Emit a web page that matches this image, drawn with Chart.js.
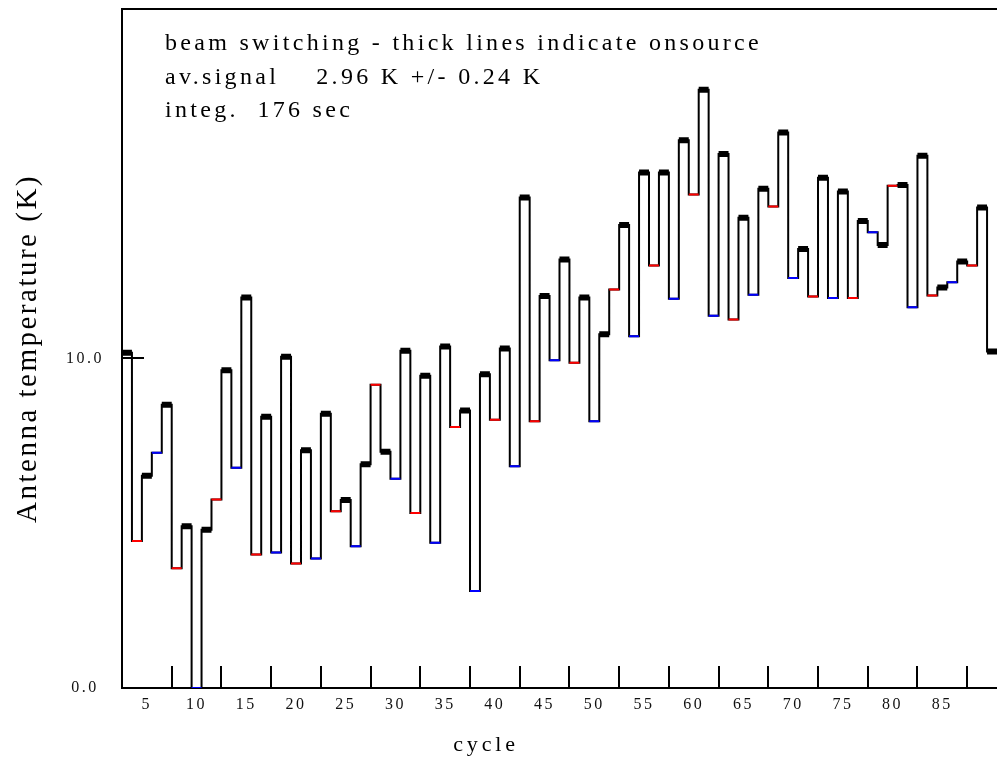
<!DOCTYPE html>
<html>
<head>
<meta charset="utf-8">
<title>Beam switching - antenna temperature per cycle</title>
<script src="https://cdn.jsdelivr.net/npm/chart.js@4/dist/chart.umd.min.js"></script>
<style>
  html, body { margin: 0; padding: 0; background: #fff; }
  #wrap { width: 997px; height: 766px; }
</style>
</head>
<body>
<div id="wrap"><canvas id="beamChart"></canvas></div>
<script>
// antenna temperature (K) for cycles 1..88
const antennaTemp = [
  10.17, 4.46, 6.44, 7.14, 8.59, 3.63, 4.91, 0.00, 4.80, 5.72,
  9.64, 6.68, 11.85, 4.05, 8.23, 4.11, 10.05, 3.78, 7.21, 3.93,
  8.32, 5.36, 5.70, 4.30, 6.79, 9.20, 7.17, 6.35, 10.23, 5.31,
  9.47, 4.41, 10.36, 7.92, 8.42, 2.94, 9.52, 8.14, 10.30, 6.73,
  14.88, 8.09, 11.89, 9.94, 13.00, 9.87, 11.85, 8.09, 10.73, 12.09,
  14.05, 10.67, 15.64, 12.82, 15.64, 11.81, 16.62, 14.97, 18.15, 11.29,
  16.20, 11.18, 14.27, 11.93, 15.15, 14.61, 16.85, 12.44, 13.32, 11.88,
  15.48, 11.83, 15.06, 11.83, 14.17, 13.83, 13.44, 15.24, 15.26, 11.55,
  16.15, 11.91, 12.15, 12.31, 12.94, 12.82, 14.58, 10.21
];

// beam position per cycle: 'on' = onsource (thick), 'A' / 'B' = the two reference beams
const beamPhase = [
  'on', 'A', 'on', 'B', 'on', 'A', 'on', 'B', 'on', 'A',
  'on', 'B', 'on', 'A', 'on', 'B', 'on', 'A', 'on', 'B',
  'on', 'A', 'on', 'B', 'on', 'A', 'on', 'B', 'on', 'A',
  'on', 'B', 'on', 'A', 'on', 'B', 'on', 'A', 'on', 'B',
  'on', 'A', 'on', 'B', 'on', 'A', 'on', 'B', 'on', 'A',
  'on', 'B', 'on', 'A', 'on', 'B', 'on', 'A', 'on', 'B',
  'on', 'A', 'on', 'B', 'on', 'A', 'on', 'B', 'on', 'A',
  'on', 'B', 'on', 'A', 'on', 'B', 'on', 'A', 'on', 'B',
  'on', 'A', 'on', 'B', 'on', 'A', 'on', 'on'
];

const cycleTicks = [5, 10, 15, 20, 25, 30, 35, 40, 45, 50, 55, 60, 65, 70, 75, 80, 85];
const tempTicks = [0, 10];
const noteLines = [
  'beam switching - thick lines indicate onsource',
  'av.signal    2.96 K +/- 0.24 K',
  'integ.  176 sec'
];

// outline: every cycle as a horizontal step, joined by verticals
const outline = [];
antennaTemp.forEach((t, i) => {
  outline.push({ x: i, y: t }, { x: i + 1, y: t });
});

// the horizontal pieces of one beam phase only, split by gaps
function phaseSteps(phase) {
  const pts = [];
  antennaTemp.forEach((t, i) => {
    if (beamPhase[i] !== phase) return;
    pts.push({ x: i, y: t }, { x: i + 1, y: t }, { x: i + 1, y: null });
  });
  return pts;
}

const serif = '"Liberation Serif", "Times New Roman", serif';

// frame top, inward ticks, notes and the x title
const framePlugin = {
  id: 'frame',
  beforeLayout(chart) {
    chart.ctx.letterSpacing = '2.5px';
  },
  beforeDraw(chart) {
    chart.ctx.letterSpacing = '2.5px';
  },
  afterDraw(chart) {
    const { ctx, chartArea: a, scales: { x, y } } = chart;
    ctx.save();
    ctx.strokeStyle = '#000';
    ctx.lineWidth = 2;
    ctx.beginPath();
    ctx.moveTo(a.left, a.top);
    ctx.lineTo(a.right, a.top);
    cycleTicks.forEach(c => {
      const px = Math.round(x.getPixelForValue(c));
      ctx.moveTo(px, a.bottom);
      ctx.lineTo(px, a.bottom - 22);
    });
    tempTicks.forEach(v => {
      if (v === 0) return;
      const py = Math.round(y.getPixelForValue(v));
      ctx.moveTo(a.left, py);
      ctx.lineTo(a.left + 22, py);
    });
    ctx.stroke();

    ctx.fillStyle = '#000';
    ctx.textBaseline = 'alphabetic';
    ctx.textAlign = 'left';
    ctx.font = '24px ' + serif;
    ctx.letterSpacing = '3.3px';
    noteLines.forEach((s, i) => {
      ctx.fillText(s, a.left + 43, 50 + i * 33.5);
    });

    ctx.font = '22px ' + serif;
    ctx.letterSpacing = '3.8px';
    ctx.textAlign = 'center';
    ctx.fillText('cycle', 486, 751);
    ctx.restore();
  }
};

new Chart(document.getElementById('beamChart'), {
  type: 'line',
  data: {
    datasets: [
      {
        label: 'onsource',
        data: phaseSteps('on'),
        borderColor: '#000000',
        borderWidth: 6,
        borderCapStyle: 'butt',
        pointRadius: 0,
        order: 1
      },
      {
        label: 'reference A',
        data: phaseSteps('A'),
        borderColor: '#ff0000',
        borderWidth: 2,
        pointRadius: 0,
        order: 1
      },
      {
        label: 'reference B',
        data: phaseSteps('B'),
        borderColor: '#0000ff',
        borderWidth: 2,
        pointRadius: 0,
        order: 1
      },
      {
        label: 'outline',
        data: outline,
        borderColor: '#000000',
        borderWidth: 2,
        borderJoinStyle: 'miter',
        pointRadius: 0,
        order: 2
      }
    ]
  },
  options: {
    responsive: true,
    maintainAspectRatio: false,
    animation: false,
    spanGaps: false,
    layout: { padding: { top: 9, right: 0, bottom: 0, left: 0 } },
    plugins: {
      legend: { display: false },
      tooltip: { enabled: false }
    },
    scales: {
      x: {
        type: 'linear',
        min: 0,
        max: 88,
        afterBuildTicks: s => { s.ticks = cycleTicks.map(v => ({ value: v })); },
        afterFit: s => { s.height = 78; s.paddingLeft = 0; s.paddingRight = 0; },
        grid: { display: false, drawTicks: false },
        border: { display: true, color: '#000', width: 2 },
        ticks: {
          autoSkip: false,
          maxRotation: 0,
          padding: 7,
          labelOffset: -24.86,
          color: '#111',
          font: { family: serif, size: 16 },
          callback: v => String(v)
        }
      },
      y: {
        type: 'linear',
        min: 0,
        max: 20.6,
        afterBuildTicks: s => { s.ticks = tempTicks.map(v => ({ value: v })); },
        afterFit: s => { s.width = 122; s.paddingTop = 0; s.paddingBottom = 0; },
        grid: { display: false, drawTicks: false },
        border: { display: true, color: '#000', width: 2 },
        title: {
          display: true,
          text: 'Antenna temperature (K)',
          color: '#000',
          font: { family: serif, size: 29 },
          padding: { top: 11, bottom: 0 }
        },
        ticks: {
          crossAlign: 'center',
          padding: 18,
          color: '#111',
          font: { family: serif, size: 16 },
          callback: v => v.toFixed(1)
        }
      }
    }
  },
  plugins: [framePlugin]
});
</script>
</body>
</html>
